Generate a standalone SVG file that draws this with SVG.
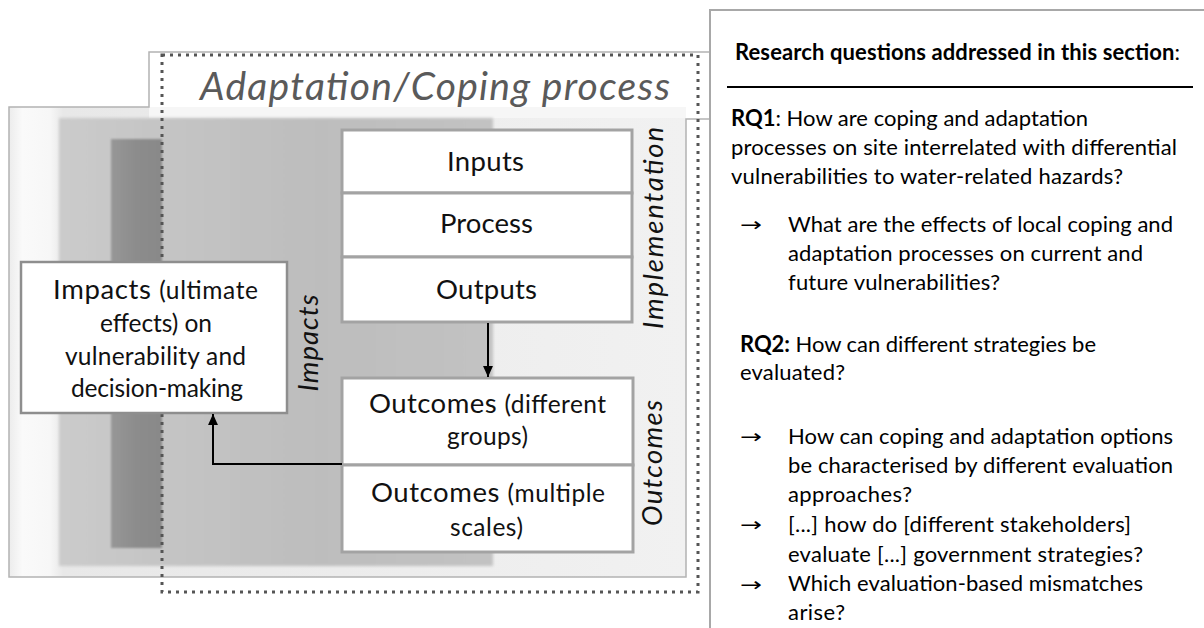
<svg xmlns="http://www.w3.org/2000/svg" width="1204" height="628" viewBox="0 0 1204 628">
<style>
  .t{font-family:Lato,"Liberation Sans",sans-serif;fill:#111}
  .big{font-size:27.5px}
  .sm{font-size:24.5px}
  .it{font-style:italic}
  .body{font-family:Lato,"Liberation Sans",sans-serif;font-size:22px;fill:#000}
  .b{font-weight:bold}
  .arr{font-family:"DejaVu Sans","Liberation Sans",sans-serif;font-size:19px;fill:#000}
  .box{fill:#fff;stroke:#a3a3a3;stroke-width:3}
  .conn{fill:none;stroke:#000;stroke-width:2}
</style>
<defs>
  <marker id="ah" viewBox="0 0 10 10" refX="10" refY="5" markerWidth="11" markerHeight="11" markerUnits="userSpaceOnUse" orient="auto">
    <path d="M0,0.5 L10,5 L0,9.5 Z" fill="#000"/>
  </marker>
  <linearGradient id="mainG" x1="0" y1="0" x2="1" y2="0">
    <stop offset="0" stop-color="#ececec"/>
    <stop offset="0.02" stop-color="#fafafa"/>
    <stop offset="0.06" stop-color="#f7f7f7"/>
    <stop offset="0.08" stop-color="#e8e8e8"/>
    <stop offset="1" stop-color="#f1f1f1"/>
  </linearGradient>
  <linearGradient id="grayG" x1="0" y1="0" x2="1" y2="0">
    <stop offset="0" stop-color="#cbcbcb"/>
    <stop offset="0.25" stop-color="#c4c4c4"/>
    <stop offset="0.6" stop-color="#bdbdbd"/>
    <stop offset="1" stop-color="#c2c2c2"/>
  </linearGradient>
  <linearGradient id="darkG" x1="0" y1="0" x2="1" y2="0">
    <stop offset="0" stop-color="#979797"/>
    <stop offset="0.5" stop-color="#8c8c8c"/>
    <stop offset="1" stop-color="#898989"/>
  </linearGradient>
  <filter id="soft" x="-5%" y="-5%" width="110%" height="110%">
    <feGaussianBlur stdDeviation="1.5"/>
  </filter>
  <filter id="soft2" x="-5%" y="-5%" width="110%" height="110%">
    <feGaussianBlur stdDeviation="0.8"/>
  </filter>
</defs>

<rect width="1204" height="628" fill="#fff"/>

<!-- frame of the process diagram -->
<g id="frame">
  <rect x="9" y="107" width="677" height="470" fill="url(#mainG)"/>
  <rect x="149" y="52" width="560" height="55" fill="#fff"/>
  <rect x="149" y="107" width="537" height="11" fill="#f6f6f6"/>
  <path d="M709,119 H686 V577 H9 V107 H149 V52 H709" fill="none" stroke="#b3b3b3" stroke-width="1.5"/>
</g>

<g id="bands">
  <rect x="59" y="118" width="434" height="448" fill="url(#grayG)" filter="url(#soft)"/>
  <rect x="111" y="139" width="51" height="409" fill="url(#darkG)" filter="url(#soft2)"/>
</g>

<g id="process-boundary">
  <rect x="162" y="55" width="536" height="537" fill="none" stroke="#555" stroke-width="3" stroke-dasharray="3 5"/>
</g>

<g id="title">
  <text class="t it" x="200" y="100" font-size="39" style="fill:#5a5a5a" textLength="470">Adaptation/Coping process</text>
</g>

<g id="inputs">
  <rect class="box" x="342" y="130" width="290" height="63"/>
  <text class="t big" x="447" y="171" textLength="77">Inputs</text>
</g>
<g id="process">
  <rect class="box" x="342" y="193" width="290" height="64"/>
  <text class="t big" x="440" y="233" textLength="93">Process</text>
</g>
<g id="outputs">
  <rect class="box" x="342" y="257" width="290" height="65"/>
  <text class="t big" x="436" y="299" textLength="101">Outputs</text>
</g>
<g id="outcomes-groups">
  <rect class="box" x="342" y="378" width="291" height="87"/>
  <text class="t" x="369" y="413" textLength="237"><tspan class="big">Outcomes </tspan><tspan class="sm">(different</tspan></text>
  <text class="t sm" x="447" y="445" textLength="81">groups)</text>
</g>
<g id="outcomes-scales">
  <rect class="box" x="342" y="465" width="291" height="87"/>
  <text class="t" x="371" y="502" textLength="234"><tspan class="big">Outcomes </tspan><tspan class="sm">(multiple</tspan></text>
  <text class="t sm" x="450" y="536" textLength="73">scales)</text>
</g>
<g id="impacts-box">
  <rect x="21" y="262" width="266" height="151" fill="#fff" stroke="#8e8e8e" stroke-width="2.5"/>
  <text class="t" x="53" y="299" textLength="205"><tspan class="big">Impacts </tspan><tspan class="sm">(ultimate</tspan></text>
  <text class="t sm" x="100" y="332" textLength="112">effects) on</text>
  <text class="t sm" x="65" y="365" textLength="181">vulnerability and</text>
  <text class="t sm" x="71" y="397" textLength="172">decision-making</text>
</g>

<g id="label-impacts">
  <text class="t big it" transform="translate(318,343) rotate(-90)" text-anchor="middle" textLength="97">Impacts</text>
</g>
<g id="label-implementation">
  <text class="t big it" transform="translate(663,228) rotate(-90)" text-anchor="middle" textLength="202">Implementation</text>
</g>
<g id="label-outcomes">
  <text class="t big it" transform="translate(662,463) rotate(-90)" text-anchor="middle" textLength="126">Outcomes</text>
</g>

<g id="connectors">
  <path class="conn" d="M488,323 V377" marker-end="url(#ah)"/>
  <path class="conn" d="M342,464 H213 V414" marker-end="url(#ah)"/>
</g>

<g id="rq-panel">
  <path d="M710,628 V10 H1204" fill="none" stroke="#a8a8a8" stroke-width="2"/>
  <text class="body" x="735" y="60" textLength="445"><tspan class="b">Research questions addressed in this section</tspan>:</text>
  <line x1="727" y1="87" x2="1193" y2="87" stroke="#000" stroke-width="2"/>
  <text class="body" x="731" y="126" textLength="357"><tspan class="b">RQ1</tspan>: How are coping and adaptation</text>
  <text class="body" x="731" y="155" textLength="446">processes on site interrelated with differential</text>
  <text class="body" x="731" y="184" textLength="392">vulnerabilities to water-related hazards?</text>
  <text class="arr" x="740" y="231" textLength="22" lengthAdjust="spacingAndGlyphs">→</text>
  <text class="body" x="788" y="232" textLength="385">What are the effects of local coping and</text>
  <text class="body" x="788" y="261" textLength="355">adaptation processes on current and</text>
  <text class="body" x="788" y="290" textLength="212">future vulnerabilities?</text>
  <text class="body" x="740" y="352" textLength="356"><tspan class="b">RQ2:</tspan> How can different strategies be</text>
  <text class="body" x="740" y="380" textLength="105">evaluated?</text>
  <text class="arr" x="740" y="443" textLength="22" lengthAdjust="spacingAndGlyphs">→</text>
  <text class="body" x="788" y="444" textLength="385">How can coping and adaptation options</text>
  <text class="body" x="788" y="473" textLength="385">be characterised by different evaluation</text>
  <text class="body" x="788" y="502" textLength="124">approaches?</text>
  <text class="arr" x="740" y="531" textLength="22" lengthAdjust="spacingAndGlyphs">→</text>
  <text class="body" x="788" y="532" textLength="343">[...] how do [different stakeholders]</text>
  <text class="body" x="788" y="562" textLength="355">evaluate [...] government strategies?</text>
  <text class="arr" x="740" y="591" textLength="22" lengthAdjust="spacingAndGlyphs">→</text>
  <text class="body" x="788" y="591" textLength="355">Which evaluation-based mismatches</text>
  <text class="body" x="788" y="620" textLength="57">arise?</text>
</g>
</svg>
